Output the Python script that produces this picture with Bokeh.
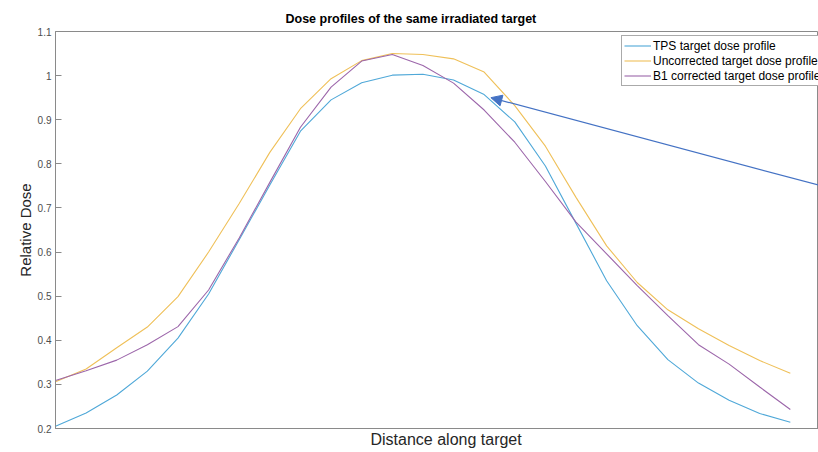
from bokeh.plotting import figure
from bokeh.models import Range1d, FixedTicker, Title, Arrow, NormalHead
from bokeh.embed import file_html
from bokeh.resources import INLINE

# ---- data ----
distance = [0, 1, 2, 3, 4, 5, 6, 7, 8, 9, 10, 11, 12, 13, 14, 15, 16, 17, 18, 19, 20, 21, 22, 23, 24]
tps_dose = [0.205, 0.235, 0.276, 0.330, 0.405, 0.505, 0.628, 0.752, 0.874, 0.945, 0.984, 1.001, 1.003,
            0.990, 0.957, 0.895, 0.795, 0.665, 0.535, 0.433, 0.356, 0.303, 0.264, 0.234, 0.214]
uncorrected_dose = [0.306, 0.335, 0.383, 0.430, 0.499, 0.600, 0.710, 0.826, 0.925, 0.993, 1.034, 1.050, 1.048,
                    1.038, 1.008, 0.932, 0.840, 0.724, 0.614, 0.531, 0.469, 0.426, 0.388, 0.354, 0.325]
b1_dose = [0.309, 0.331, 0.355, 0.390, 0.431, 0.514, 0.632, 0.758, 0.883, 0.974, 1.033, 1.048, 1.023,
           0.983, 0.922, 0.849, 0.760, 0.668, 0.596, 0.524, 0.456, 0.390, 0.346, 0.294, 0.243]
series_labels = ["TPS target dose profile", "Uncorrected target dose profile", "B1 corrected target dose profile"]
y_ticks = [0.2, 0.3, 0.4, 0.5, 0.6, 0.7, 0.8, 0.9, 1.0, 1.1]
arrow_tip = (14.22, 0.950)
arrow_tail = (25.5, 0.741)

FONT = "Liberation Sans"

p = figure(width=818, height=452, output_backend="svg", toolbar_location=None,
           x_range=Range1d(0, 24.92), y_range=Range1d(0.2, 1.1),
           min_border_left=55, min_border_right=0, min_border_top=31, min_border_bottom=24)
p.background_fill_color = "white"
p.border_fill_color = "white"
p.outline_line_color = "#8a8a8a"
p.xgrid.visible = False
p.ygrid.visible = False

# title
p.title.visible = False
p.add_layout(Title(text="Dose profiles of the same irradiated target", align="left", offset=230,
                   text_font=FONT, text_font_size="12.5px", text_font_style="bold",
                   text_color="#000000", standoff=11), "above")
p.add_layout(Title(text="Distance along target", align="left", offset=315,
                   text_font=FONT, text_font_size="16px", text_font_style="normal",
                   text_color="#262626", standoff=0), "below")

# x axis: no ticks
p.xaxis.ticker = FixedTicker(ticks=[])
p.xaxis.axis_line_color = "#8a8a8a"
p.xaxis.major_tick_out = 0
p.xaxis.minor_tick_line_color = None
p.xaxis.major_label_standoff = 0

# y axis
p.yaxis.ticker = FixedTicker(ticks=y_ticks)
p.yaxis.major_label_overrides = {1.0: "1"}
p.yaxis.axis_line_color = "#8a8a8a"
p.yaxis.major_tick_line_color = "#8a8a8a"
p.yaxis.major_tick_in = 6
p.yaxis.major_tick_out = 0
p.yaxis.minor_tick_line_color = None
p.yaxis.major_label_text_font = FONT
p.yaxis.major_label_text_font_size = "10px"
p.yaxis.major_label_text_color = "#4d4d4d"
p.yaxis.major_label_standoff = 4
p.yaxis.axis_label = "Relative Dose"
p.yaxis.axis_label_text_font = FONT
p.yaxis.axis_label_text_font_size = "15px"
p.yaxis.axis_label_text_font_style = "normal"
p.yaxis.axis_label_text_color = "#262626"
p.yaxis.axis_label_standoff = 1

colors = ["#4fa8d8", "#efc059", "#9c66aa"]
for vals, lab, col in zip([tps_dose, uncorrected_dose, b1_dose], series_labels, colors):
    p.line(distance, vals, line_color=col, line_width=1.1, legend_label=lab)

lg = p.legend[0]
lg.location = (566, 342)
lg.label_text_font = FONT
lg.label_text_font_size = "12px"
lg.label_text_color = "#000000"
lg.glyph_width = 27
lg.glyph_height = 15
lg.label_height = 15
lg.label_standoff = 2
lg.spacing = 0
lg.padding = 2
lg.margin = 0
lg.border_line_color = "#555555"
lg.border_line_width = 1
lg.background_fill_color = "white"
lg.background_fill_alpha = 1.0

p.add_layout(Arrow(end=NormalHead(size=11, fill_color="#4472c4", line_color="#4472c4"),
                   x_start=arrow_tail[0], y_start=arrow_tail[1],
                   x_end=arrow_tip[0], y_end=arrow_tip[1],
                   line_color="#4472c4", line_width=1.2))

open("out.html", "w").write(file_html(p, INLINE))
